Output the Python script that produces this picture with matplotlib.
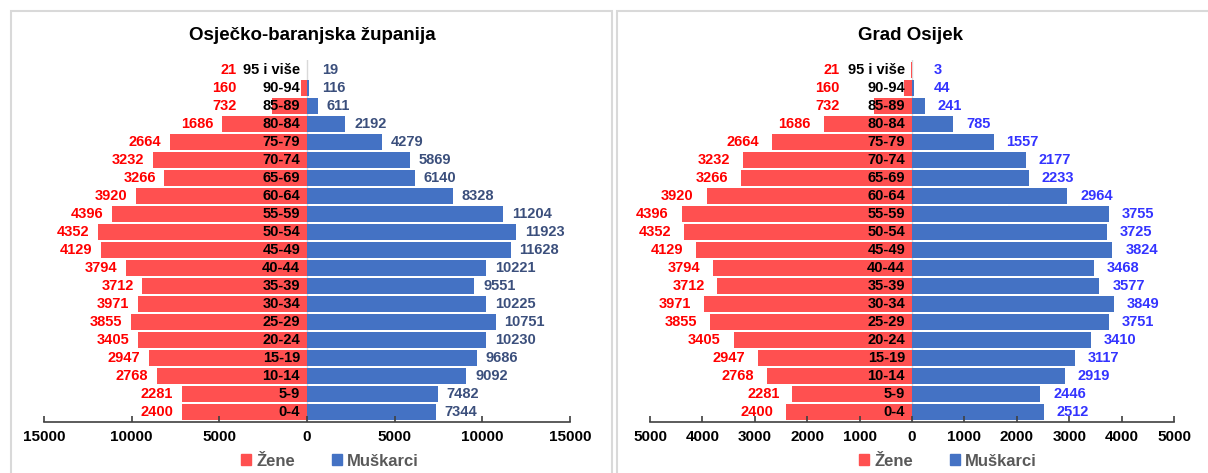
import numpy as np
import matplotlib
matplotlib.use("Agg")
import matplotlib.pyplot as plt
from matplotlib.patches import Patch, Rectangle

# age groups, bottom to top
dobne_skupine = ["0-4", "5-9", "10-14", "15-19", "20-24", "25-29", "30-34", "35-39",
                 "40-44", "45-49", "50-54", "55-59", "60-64", "65-69", "70-74",
                 "75-79", "80-84", "85-89", "90-94", "95 i više"]

# Osjecko-baranjska zupanija (female bar lengths)
zupanija_zene = [7150, 7150, 8550, 9000, 9650, 10050, 9650, 9400, 10330, 11730,
                 11930, 11110, 9730, 8130, 8780, 7820, 4870, 2000, 330, 20]
zupanija_muski = [7344, 7482, 9092, 9686, 10230, 10751, 10225, 9551, 10221, 11628,
                  11923, 11204, 8328, 6140, 5869, 4279, 2192, 611, 116, 19]

# Grad Osijek
osijek_zene = [2400, 2281, 2768, 2947, 3405, 3855, 3971, 3712, 3794, 4129,
               4352, 4396, 3920, 3266, 3232, 2664, 1686, 732, 160, 21]
osijek_muski = [2512, 2446, 2919, 3117, 3410, 3751, 3849, 3577, 3468, 3824,
                3725, 3755, 2964, 2233, 2177, 1557, 785, 241, 44, 3]

# the female labels are the same in both panels (as in the original)
zupanija_zene_oznake = osijek_zene
zupanija_muski_oznake = zupanija_muski

ZENE = "#FF5050"
MUSKI = "#4472C4"
NARROW = ["Liberation Sans Narrow", "Liberation Sans", "DejaVu Sans"]
plt.rcParams["font.family"] = ["Liberation Sans", "DejaVu Sans"]


def piramida(ax, zene, muski, zene_lbl, muski_lbl, lim, korak,
             boja_muski, pad, prag_z, prag_m):
    y = np.arange(len(dobne_skupine))
    ax.barh(y, -np.array(zene), height=0.92, color=ZENE)
    ax.barh(y, muski, height=0.92, color=MUSKI)
    ax.axvline(0, color="#D9D9D9", lw=1, zorder=0)
    ax.set_xlim(-lim, lim)
    ax.set_ylim(-0.55, len(y) - 0.45)
    ticks = np.arange(-lim, lim + 1, korak)
    ax.set_xticks(ticks)
    ax.set_xticklabels([str(abs(int(t))) for t in ticks], fontsize=11, fontweight="bold")
    ax.set_yticks([])
    for s in ["left", "right", "top"]:
        ax.spines[s].set_visible(False)
    ax.spines["bottom"].set_color("#404040")
    ax.spines["bottom"].set_linewidth(1.2)
    ax.tick_params(axis="x", direction="in", length=4, width=1.2, color="#404040", pad=6)
    for i, lab in enumerate(dobne_skupine):
        ax.annotate(lab, (0, i), xytext=(-5, 0), textcoords="offset points",
                    ha="right", va="center", fontsize=10.5, fontweight="bold",
                    family=NARROW, color="black")
        xz = -max(zene[i] + pad, prag_z)
        ax.text(xz, i, str(zene_lbl[i]), ha="right", va="center", fontsize=10.5,
                fontweight="bold", family=NARROW, color="#FF0000")
        xm = max(muski[i] + pad, prag_m)
        ax.text(xm, i, str(muski_lbl[i]), ha="left", va="center", fontsize=10.5,
                fontweight="bold", family=NARROW, color=boja_muski)


fig = plt.figure(figsize=(12.08, 4.73), dpi=100)
fig.patches.append(Rectangle((11 / 1208, -0.1), 601 / 1208, 1.1 - 11 / 473,
                             transform=fig.transFigure, fill=False,
                             edgecolor="#D9D9D9", lw=1.5))
fig.patches.append(Rectangle((617 / 1208, -0.1), 0.6, 1.1 - 11 / 473,
                             transform=fig.transFigure, fill=False,
                             edgecolor="#D9D9D9", lw=1.5))

ax1 = fig.add_axes([44 / 1208, 1 - 422 / 473, 526 / 1208, 362 / 473])
ax2 = fig.add_axes([650 / 1208, 1 - 422 / 473, 524 / 1208, 362 / 473])

piramida(ax1, zupanija_zene, zupanija_muski, zupanija_zene_oznake,
         zupanija_muski_oznake, 15000, 5000, "#3B4F7C", 490, 4000, 850)
piramida(ax2, osijek_zene, osijek_muski, osijek_zene, osijek_muski,
         5000, 1000, "#3333FF", 245, 1380, 420)

fig.text(312 / 1208, 1 - 35 / 473, "Osječko-baranjska županija", ha="center",
         va="center", fontsize=13.5, fontweight="bold")
fig.text(910 / 1208, 1 - 35 / 473, "Grad Osijek", ha="center",
         va="center", fontsize=13.5, fontweight="bold")

handles = [Patch(color=ZENE, label="Žene"), Patch(color=MUSKI, label="Muškarci")]
for cx in [330 / 1208, 948 / 1208]:
    leg = fig.legend(handles=handles, loc="center", bbox_to_anchor=(cx, 1 - 461 / 473),
                     ncol=2, frameon=False, handlelength=0.6, handleheight=0.6,
                     handletextpad=0.3, columnspacing=2.2,
                     prop={"size": 12, "weight": "bold"})
    for t in leg.get_texts():
        t.set_color("#595959")

fig.savefig("out.png", dpi=100)
